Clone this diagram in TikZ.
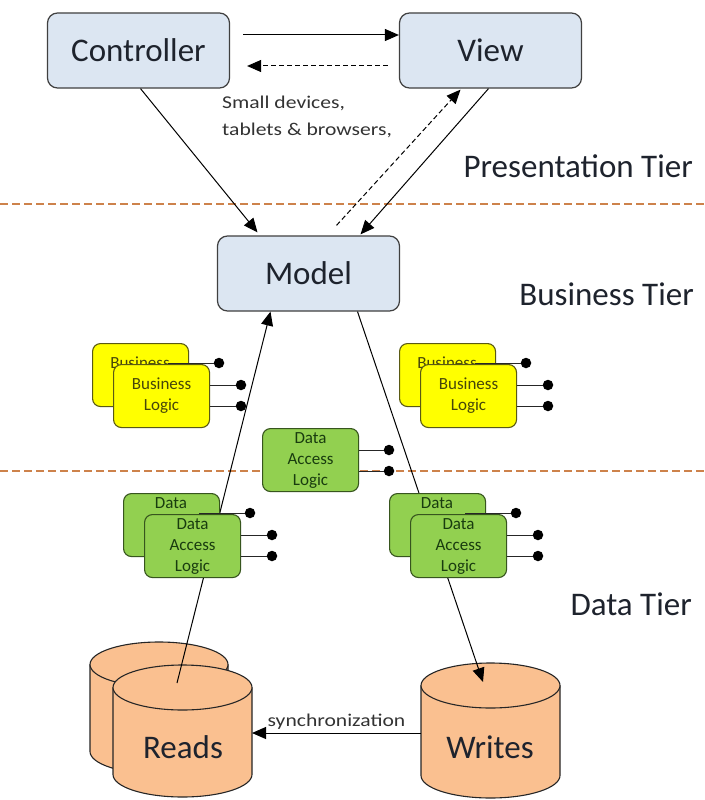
\documentclass[tikz,border=0pt]{standalone}
\usepackage{fontspec}
\setmainfont{Carlito}
\newfontfamily\widefont{Carlito}[FakeStretch=1.2]
\usetikzlibrary{arrows.meta,calc}
\definecolor{boxblue}{RGB}{220,230,242}
\definecolor{boxline}{RGB}{64,64,64}
\definecolor{txtdark}{RGB}{30,35,45}
\definecolor{ylwfill}{RGB}{255,255,0}
\definecolor{ylwline}{RGB}{90,90,20}
\definecolor{ylwtext}{RGB}{70,70,10}
\definecolor{grnfill}{RGB}{146,208,80}
\definecolor{grnline}{RGB}{55,85,30}
\definecolor{grntext}{RGB}{25,60,15}
\definecolor{cylfill}{RGB}{250,192,144}
\definecolor{tierline}{RGB}{205,130,75}
\newcommand\bigfont{\fontsize{33}{38}\selectfont}
\newcommand\smallfont{\fontsize{17}{21}\selectfont}
\newcommand\notefont{\widefont\fontsize{18}{27}\selectfont}
% component stack: name, x, y (top-left of back box), style, back word, back word offset, text
\newcommand\compstack[7]{%
  \node[#4, anchor=north west] (#1b) at (#2,#3) {};
  \node[#4, draw=none, fill=none, minimum size=0pt] (#1bt) at (#2+48,#3+#6) {#5};
  \node[dot] (#1d0) at (#2+127,#3+20) {};
  \draw[conn] (#1d0) -- ++(-51,0);
  \node[#4, anchor=north west] (#1f) at (#2+21,#3+21) {#7};
  \node[dot] (#1d1) at (#2+149,#3+42) {};
  \node[dot] (#1d2) at (#2+149,#3+63) {};
  \draw[conn] (#1f.east |- #1d1) -- (#1d1);
  \draw[conn] (#1f.east |- #1d2) -- (#1d2);
}
% cylinder: cx, top centre y, bottom centre y, half width, ellipse ry
\newcommand\cylinder[5]{%
  \filldraw[cyl] (#1-#4,#2) -- (#1-#4,#3)
     arc[start angle=180,end angle=360,x radius=#4pt,y radius=#5pt]
     -- (#1+#4,#2)
     arc[start angle=0,end angle=180,x radius=#4pt,y radius=#5pt] -- cycle;
  \draw[cyl] (#1-#4,#2) arc[start angle=180,end angle=360,x radius=#4pt,y radius=#5pt];
}
\begin{document}
\begin{tikzpicture}[x=1pt,y=-1pt,
  bluebox/.style={draw=boxline, fill=boxblue, rounded corners=10pt, line width=1.2pt,
    minimum width=182pt, minimum height=75pt, inner sep=0pt, font=\bigfont, text=txtdark},
  ybox/.style={draw=ylwline, fill=ylwfill, rounded corners=8pt, line width=1.1pt,
    minimum width=96pt, minimum height=63pt, inner sep=0pt, align=center,
    font=\smallfont, text=ylwtext},
  gbox/.style={draw=grnline, fill=grnfill, rounded corners=8pt, line width=1.1pt,
    minimum width=96pt, minimum height=63pt, inner sep=0pt, align=center,
    font=\smallfont, text=grntext},
  dot/.style={circle, fill=black, inner sep=0pt, minimum size=10.5pt},
  conn/.style={line width=1pt, draw=black!85},
  arr/.style={-{Triangle[length=14pt,width=12pt]}, line width=1pt, draw=black},
  darr/.style={arr, dash pattern=on 5pt off 3pt},
  tier/.style={draw=tierline, line width=2pt, dash pattern=on 8pt off 4pt},
  tierlabel/.style={font=\bigfont, text=txtdark, inner sep=0pt},
  cyl/.style={draw=black!85, fill=cylfill, line width=1.1pt}
]
\useasboundingbox (0,0) rectangle (704,800);
\fill[white] (0,0) rectangle (704,800);

% tier separators
\draw[tier] (0,204) -- (704,204);
\draw[tier] (0,471) -- (704,471);

% presentation tier
\node[bluebox] (ctrl) at (138.5,50.5) {Controller};
\node[bluebox] (view) at (490.5,50.5) {View};
\node[bluebox] (model) at (308.5,273.5) {Model};

\draw[arr] ([xshift=13pt,yshift=15.5pt]ctrl.east) -- ([yshift=15.5pt]view.west);
\draw[darr] ([xshift=-11pt,yshift=-15.5pt]view.west) -- ([xshift=17pt,yshift=-15.5pt]ctrl.east);
\draw[arr] ([xshift=2pt]ctrl.south) -- ([xshift=-51pt,yshift=3pt]model.north);
\draw[arr] ([xshift=-2pt]view.south) -- ([xshift=52pt,yshift=1pt]model.north);
\draw[darr] ([xshift=28pt,yshift=10pt]model.north) -- ([xshift=-30pt,yshift=-1pt]view.south);

\node[anchor=base west, align=left, font=\notefont, text=black!80, inner sep=0pt] (note)
  at (222,135) {Small devices,\\tablets \& browsers,};

\node[tierlabel, anchor=base east] (ptier) at (693,177) {Presentation Tier};
\node[tierlabel, anchor=base east] (btier) at (694,305) {Business Tier};
\node[tierlabel, anchor=base east] (dtier) at (692,615) {Data Tier};

% data flow arrows (behind the components)
\coordinate (readsin) at (177,683);
\coordinate (writesin) at (483,682);

% cylinders
\cylinder{159}{664.5}{751.5}{69}{22.5}
\cylinder{182.5}{687.5}{774.5}{69.5}{22.5}
\cylinder{490.5}{685.5}{775.5}{69.5}{22.5}
\node[font=\bigfont, text=txtdark] (reads) at (183,747) {Reads};
\node[font=\bigfont, text=txtdark] (writes) at (490,747) {Writes};

\draw[arr] (readsin) -- ([xshift=-38pt]model.south);
\draw[arr] ([xshift=49pt]model.south) -- (writesin);

% components
\compstack{bl}{92}{343}{ybox}{Business}{20}{Business\\Logic}
\compstack{br}{399}{343}{ybox}{Business}{20}{Business\\Logic}
\compstack{dl}{123}{493}{gbox}{Data}{10}{Data\\Access\\Logic}
\compstack{dr}{389}{493}{gbox}{Data}{10}{Data\\Access\\Logic}

\node[gbox, anchor=north west] (dm) at (262,428) {Data\\Access\\Logic};
\node[dot] (dmd1) at (389,450) {};
\node[dot] (dmd2) at (389,471) {};
\draw[conn] (dm.east |- dmd1) -- (dmd1);
\draw[conn] (dm.east |- dmd2) -- (dmd2);

% synchronization
\coordinate (writesL) at (421,733);
\coordinate (readsR) at (252,733);
\draw[arr] (writesL) -- node[above=3pt, font=\notefont, text=black!80, inner sep=0pt] (sync) {synchronization} (readsR);
\end{tikzpicture}
\end{document}
